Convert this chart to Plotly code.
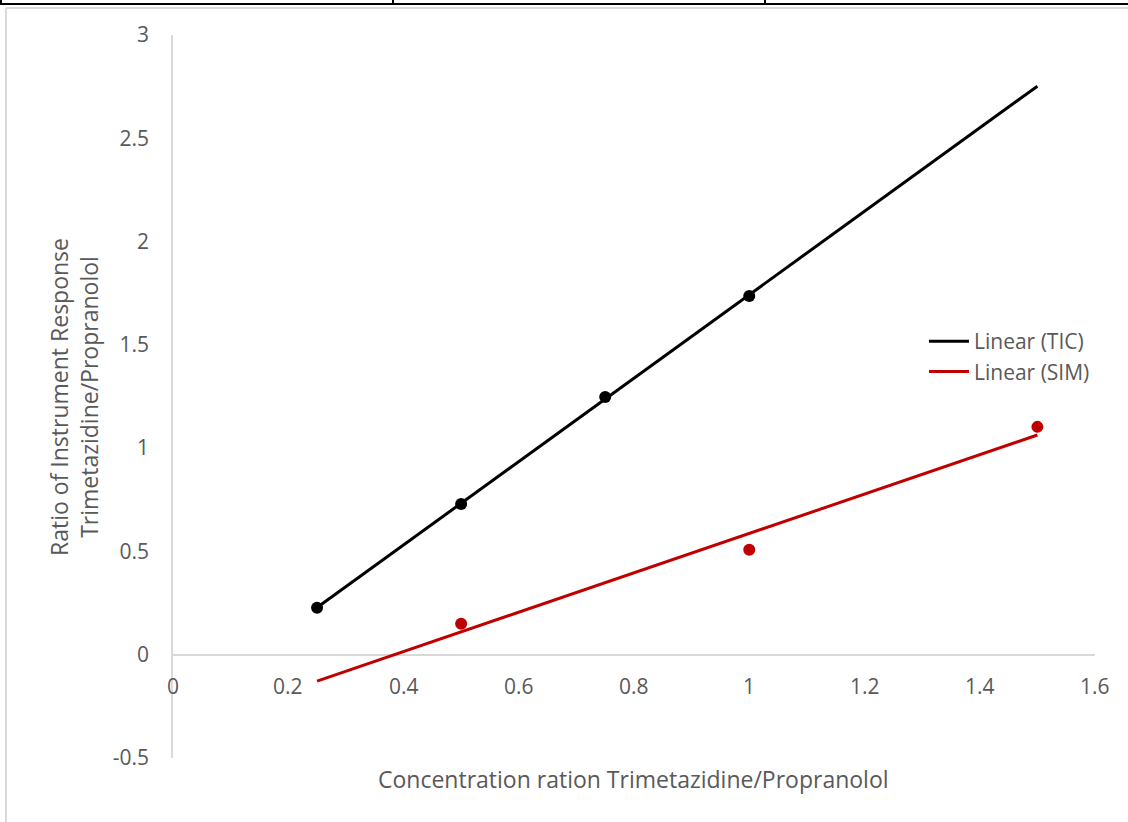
import numpy as np
import plotly.graph_objects as go

# Data
tic_x = [0.25, 0.5, 0.75, 1.0]
tic_y = [0.227, 0.73, 1.248, 1.737]
sim_x = [0.5, 1.0, 1.5]
sim_y = [0.15, 0.508, 1.103]
trend_x_range = [0.25, 1.5]
x_ticks = [0, 0.2, 0.4, 0.6, 0.8, 1, 1.2, 1.4, 1.6]
x_tick_text = ["0", "0.2", "0.4", "0.6", "0.8", "1", "1.2", "1.4", "1.6"]
y_ticks = [-0.5, 0, 0.5, 1, 1.5, 2, 2.5, 3]
y_tick_text = ["-0.5", "0", "0.5", "1", "1.5", "2", "2.5", "3"]

BLACK = "#000000"
RED = "#C00000"
GREY_TXT = "#595959"
GRID = "#d9d9d9"
FONT = "Open Sans"

W, H = 1128, 822
L, R, T, B = 173, 33, 35, 64
pw, ph = W - L - R, H - T - B


def px(xp):
    return (xp - L) / pw


def py(yp):
    return (H - B - yp) / ph


tic_fit = np.polyfit(tic_x, tic_y, 1)
sim_fit = np.polyfit(sim_x, sim_y, 1)
tx = np.array(trend_x_range)

fig = go.Figure()
fig.add_trace(go.Scatter(x=tx, y=np.polyval(tic_fit, tx), mode="lines",
                         line=dict(color=BLACK, width=3), name="Linear (TIC)"))
fig.add_trace(go.Scatter(x=tx, y=np.polyval(sim_fit, tx), mode="lines",
                         line=dict(color=RED, width=3), name="Linear (SIM)"))
fig.add_trace(go.Scatter(x=tic_x, y=tic_y, mode="markers",
                         marker=dict(color=BLACK, size=12), showlegend=False, name="TIC"))
fig.add_trace(go.Scatter(x=sim_x, y=sim_y, mode="markers",
                         marker=dict(color=RED, size=12), showlegend=False, name="SIM"))

annotations = []
for v, t in zip(x_ticks, x_tick_text):
    annotations.append(dict(x=v, y=0, xref="x", yref="y", text=t, showarrow=False,
                            yshift=-31, font=dict(family=FONT, size=21, color=GREY_TXT)))
annotations.append(dict(x=px(633), y=py(779), xref="paper", yref="paper",
                        text="Concentration ration Trimetazidine/Propranolol",
                        showarrow=False, xanchor="center", yanchor="middle",
                        font=dict(family=FONT, size=23, color=GREY_TXT)))
annotations.append(dict(x=px(74), y=py(397), xref="paper", yref="paper",
                        text="Ratio of Instrument Response<br>Trimetazidine/Propranolol",
                        textangle=-90, showarrow=False, xanchor="center", yanchor="middle",
                        font=dict(family=FONT, size=23, color=GREY_TXT)))

shapes = [
    # chart area border
    dict(type="line", xref="paper", yref="paper", x0=px(6), x1=px(1130), y0=py(8), y1=py(8),
         line=dict(color=GRID, width=2)),
    dict(type="line", xref="paper", yref="paper", x0=px(6), x1=px(6), y0=py(8), y1=py(830),
         line=dict(color=GRID, width=2)),
    # table fragment at top
    dict(type="line", xref="paper", yref="paper", x0=px(0), x1=px(1130), y0=py(4), y1=py(4),
         line=dict(color=BLACK, width=2)),
    dict(type="line", xref="paper", yref="paper", x0=px(1), x1=px(1), y0=py(-2), y1=py(4),
         line=dict(color=BLACK, width=2)),
    dict(type="line", xref="paper", yref="paper", x0=px(393), x1=px(393), y0=py(-2), y1=py(4),
         line=dict(color=BLACK, width=2)),
    dict(type="line", xref="paper", yref="paper", x0=px(765), x1=px(765), y0=py(-2), y1=py(4),
         line=dict(color=BLACK, width=2)),
]

fig.update_layout(
    width=W, height=H,
    margin=dict(l=L, r=R, t=T, b=B),
    paper_bgcolor="white", plot_bgcolor="white",
    font=dict(family=FONT, color=GREY_TXT),
    xaxis=dict(range=[0, 1.6], showgrid=False, zeroline=False, showline=False,
               showticklabels=False, ticks=""),
    yaxis=dict(range=[-0.5, 3], tickvals=y_ticks, ticktext=y_tick_text,
               showgrid=False, zeroline=True, zerolinecolor=GRID, zerolinewidth=1.5,
               showline=True, linecolor=GRID, linewidth=1.5, ticks="",
               ticklabelstandoff=18, tickfont=dict(family=FONT, size=21, color=GREY_TXT)),
    legend=dict(x=px(924), y=py(321), xanchor="left", yanchor="top",
                bgcolor="rgba(0,0,0,0)", font=dict(family=FONT, size=21, color=GREY_TXT),
                tracegroupgap=0, itemwidth=40),
    annotations=annotations, shapes=shapes,
    showlegend=True,
)

fig.write_html("out.html")
